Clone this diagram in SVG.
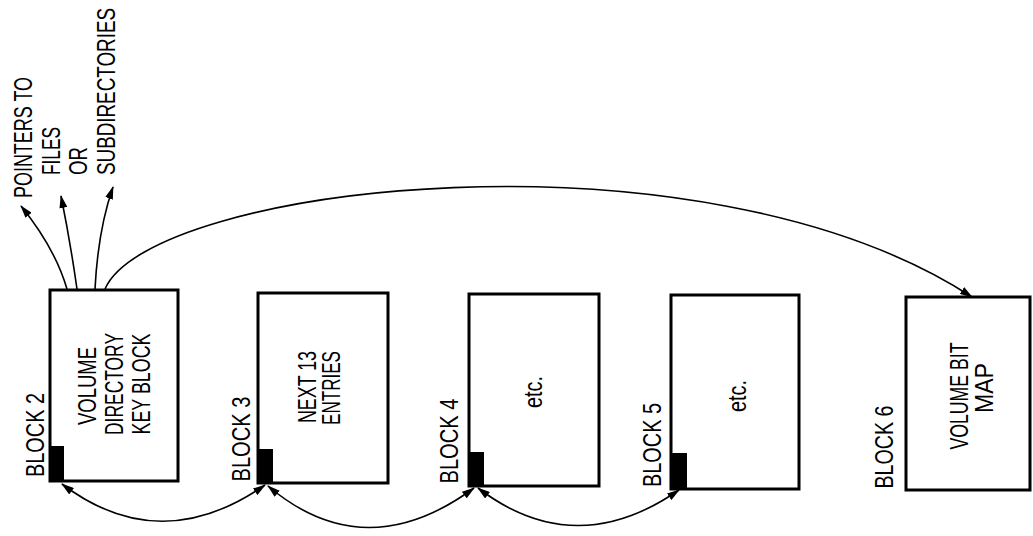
<svg xmlns="http://www.w3.org/2000/svg" width="1033" height="536" viewBox="0 0 1033 536">
<defs>
<style>
.box{fill:#fff;stroke:#000;stroke-width:3}
.tab{fill:#000}
.t{font-family:"Liberation Sans",Arial,sans-serif;font-size:25px;fill:#000}
.m{text-anchor:middle}
.c{fill:none;stroke:#000;stroke-width:1.6}
</style>
<marker id="ah" viewBox="0 0 13 8" refX="12" refY="4" markerWidth="13" markerHeight="8" markerUnits="userSpaceOnUse" orient="auto-start-reverse">
<path d="M0,0 L13,4 L0,8 z" fill="#000"/>
</marker>
</defs>
<rect width="1033" height="536" fill="#fff"/>

<g id="labels-top">
<text class="t" transform="translate(32,198) rotate(-90)" textLength="121" lengthAdjust="spacingAndGlyphs">POINTERS TO</text>
<text class="t" transform="translate(60,175) rotate(-90)" textLength="48" lengthAdjust="spacingAndGlyphs">FILES</text>
<text class="t" transform="translate(87,175) rotate(-90)" textLength="28" lengthAdjust="spacingAndGlyphs">OR</text>
<text class="t" transform="translate(115,175) rotate(-90)" textLength="167" lengthAdjust="spacingAndGlyphs">SUBDIRECTORIES</text>
</g>

<g id="block2">
<rect class="box" x="50" y="290" width="128" height="191"/>
<rect class="tab" x="50" y="446" width="14" height="36"/>
<text class="t m" transform="translate(44,435) rotate(-90)" textLength="84" lengthAdjust="spacingAndGlyphs">BLOCK 2</text>
<text class="t m" transform="translate(96,386) rotate(-90)" textLength="78" lengthAdjust="spacingAndGlyphs">VOLUME</text>
<text class="t m" transform="translate(123,384) rotate(-90)" textLength="102" lengthAdjust="spacingAndGlyphs">DIRECTORY</text>
<text class="t m" transform="translate(150,384) rotate(-90)" textLength="101" lengthAdjust="spacingAndGlyphs">KEY BLOCK</text>
</g>

<g id="block3">
<rect class="box" x="258" y="293" width="130" height="190"/>
<rect class="tab" x="258" y="449" width="15" height="35"/>
<text class="t m" transform="translate(250,439) rotate(-90)" textLength="85" lengthAdjust="spacingAndGlyphs">BLOCK 3</text>
<text class="t m" transform="translate(316,387) rotate(-90)" textLength="72" lengthAdjust="spacingAndGlyphs">NEXT 13</text>
<text class="t m" transform="translate(340,388) rotate(-90)" textLength="74" lengthAdjust="spacingAndGlyphs">ENTRIES</text>
</g>

<g id="block4">
<rect class="box" x="469" y="294" width="130" height="192"/>
<rect class="tab" x="469" y="452" width="15" height="35"/>
<text class="t m" transform="translate(458,441) rotate(-90)" textLength="85" lengthAdjust="spacingAndGlyphs">BLOCK 4</text>
<text class="t m" transform="translate(542,392) rotate(-90)" textLength="32" lengthAdjust="spacingAndGlyphs">etc.</text>
</g>

<g id="block5">
<rect class="box" x="671" y="295" width="128" height="194"/>
<rect class="tab" x="671" y="453" width="16" height="37"/>
<text class="t m" transform="translate(661,445) rotate(-90)" textLength="84" lengthAdjust="spacingAndGlyphs">BLOCK 5</text>
<text class="t m" transform="translate(746,396) rotate(-90)" textLength="32" lengthAdjust="spacingAndGlyphs">etc.</text>
</g>

<g id="block6">
<rect class="box" x="906" y="297" width="124" height="193"/>
<text class="t m" transform="translate(893,447) rotate(-90)" textLength="83" lengthAdjust="spacingAndGlyphs">BLOCK 6</text>
<text class="t m" transform="translate(968,396) rotate(-90)" textLength="107" lengthAdjust="spacingAndGlyphs">VOLUME BIT</text>
<text class="t m" transform="translate(993,388) rotate(-90)" textLength="50" lengthAdjust="spacingAndGlyphs">MAP</text>
</g>

<g id="connectors">
<path class="c" d="M67,289 Q55,248 21,206" marker-end="url(#ah)"/>
<path class="c" d="M77,289 Q70,240 61,196" marker-end="url(#ah)"/>
<path class="c" d="M95,289 Q98,230 113,187" marker-end="url(#ah)"/>
<path class="c" d="M105,289 C150,185 700,120 972,297" marker-end="url(#ah)"/>
<path class="c" d="M62,484 Q160,558 265,485" marker-start="url(#ah)" marker-end="url(#ah)"/>
<path class="c" d="M268,486 Q365,568 474,488" marker-start="url(#ah)" marker-end="url(#ah)"/>
<path class="c" d="M478,488 Q575,562 679,490" marker-start="url(#ah)" marker-end="url(#ah)"/>
</g>
</svg>
